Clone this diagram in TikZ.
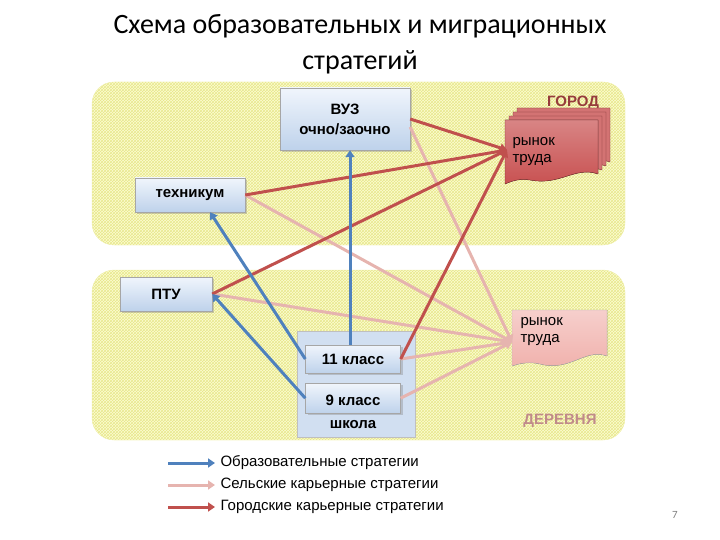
\documentclass[tikz,border=0pt]{standalone}
\usepackage{fontspec}
\setmainfont{Liberation Sans}
\newfontfamily\titlefont{Carlito}
\usetikzlibrary{patterns,arrows.meta,shadows}
\definecolor{regfill}{RGB}{252,252,210}
\definecolor{hatch}{RGB}{232,232,140}
\definecolor{boxtop}{RGB}{240,245,252}
\definecolor{boxbot}{RGB}{190,210,235}
\definecolor{edu}{RGB}{79,129,189}
\definecolor{rural}{RGB}{230,180,175}
\definecolor{urban}{RGB}{192,80,77}
\definecolor{docdark}{RGB}{200,80,80}
\definecolor{doclight}{RGB}{240,175,170}
\definecolor{cityc}{RGB}{150,60,60}
\begin{document}
\begin{tikzpicture}[x=1pt,y=-1pt,
  region/.style={rounded corners=22pt,draw=hatch!70!white,preaction={fill=regfill},pattern=crosshatch,pattern color=hatch},
  sbox/.style={draw=gray!70,top color=boxtop,bottom color=boxbot,font=\bfseries\fontsize{15}{18}\selectfont,align=center,inner sep=2pt,drop shadow={opacity=0.35,shadow xshift=2pt,shadow yshift=-2pt}},
  edua/.style={edu,line width=3pt,-{Triangle[length=7pt,width=9pt]}},
  rura/.style={rural,line width=3pt,-{Triangle[length=7pt,width=9pt]}},
  urba/.style={urban,line width=3pt,-{Triangle[length=7pt,width=9pt]}},
  lab/.style={font=\fontsize{15}{18}\selectfont,anchor=west}]
\useasboundingbox (0,0) rectangle (720,540);
\node[font=\titlefont\fontsize{28}{36}\selectfont,align=center] (title) at (360,44) {Схема образовательных и миграционных\\стратегий};
\fill[region] (92,82) rectangle (625,245);
\fill[region] (92,270) rectangle (625,440);
\node[font=\bfseries\fontsize{15}{18}\selectfont,text=cityc] (gorod) at (573,103) {ГОРОД};
\node[font=\bfseries\fontsize{15}{18}\selectfont,text=cityc!60] (derevnya) at (560,421) {ДЕРЕВНЯ};
% school box
\node[draw=gray!50,fill=boxbot!70,minimum width=118pt,minimum height=106pt] (shk) at (356,384) {};
\node[font=\bfseries\fontsize{15}{18}\selectfont] (shklab) at (353,425) {школа};
\node[sbox,minimum width=130pt,minimum height=62pt] (vuz) at (345,119) {ВУЗ\\[2pt]очно/заочно};
\node[sbox,minimum width=110pt,minimum height=34pt] (tech) at (190,195) {техникум};
\node[sbox,minimum width=92pt,minimum height=34pt] (ptu) at (166,294) {ПТУ};
\node[sbox,minimum width=95pt,minimum height=28pt] (k11) at (353,359) {11 класс};
\node[sbox,minimum width=95pt,minimum height=30pt,anchor=north] (k9) at (353,383) {};
\node[font=\bfseries\fontsize{15}{18}\selectfont] (k9lab) at (353,400) {9 класс};
% labour markets
\foreach \d in {12,8,4}{
  \fill[docdark!80,draw=docdark!60!black] (505+\d,120-\d) -- (598+\d,120-\d) -- (598+\d,174-\d) .. controls (575+\d,166-\d) and (560+\d,186-\d) .. (530+\d,180-\d) .. controls (518+\d,178-\d) and (510+\d,182-\d) .. (505+\d,184-\d) -- cycle;}
\fill[top color=docdark!70,bottom color=docdark,draw=docdark!60!black] (505,120) -- (598,120) -- (598,174) .. controls (575,166) and (560,186) .. (530,180) .. controls (518,178) and (510,182) .. (505,184) -- cycle;
\node[font=\fontsize{15}{17}\selectfont,align=left,anchor=north west] (rt1) at (509,134) {рынок\\труда};
\fill[top color=doclight!60,bottom color=doclight,draw=gray!60] (512,310) -- (607,310) -- (607,356) .. controls (585,348) and (570,372) .. (540,364) .. controls (528,361) and (518,364) .. (512,366) -- cycle;
\node[font=\fontsize{15}{17}\selectfont,align=left,anchor=north west] (rt2) at (517,314) {рынок\\труда};
\coordinate (mt) at (507,150);
\coordinate (mb) at (512,342);
% rural
\draw[rura] (vuz.east) ++(0,8) -- (mb);
\draw[rura] (tech.east) -- (mb);
\draw[rura] (ptu.east) -- (mb);
\draw[rura] (k11.east) -- (mb);
\draw[rura] (k9.east) -- (mb);
% urban
\draw[urba] (vuz.east) -- (mt);
\draw[urba] (tech.east) -- (mt);
\draw[urba] (ptu.east) -- (mt);
\draw[urba] (k11.east) -- (mt);
% edu
\draw[edua] ([xshift=-3pt]k11.north) -- ([xshift=5pt]vuz.south);
\draw[edua] (k11.west) -- ([xshift=20pt]tech.south);
\draw[edua] (k9.west) -- (ptu.east);
% legend
\coordinate (l1a) at (168,463); \coordinate (l1b) at (215,463);
\coordinate (l2a) at (168,485); \coordinate (l2b) at (215,485);
\coordinate (l3a) at (168,507); \coordinate (l3b) at (215,507);
\draw[edua] (l1a) -- (l1b);
\draw[rura] (l2a) -- (l2b);
\draw[urba] (l3a) -- (l3b);
\node[lab] (t1) at (217,463) {Образовательные стратегии};
\node[lab] (t2) at (217,485) {Сельские карьерные стратегии};
\node[lab] (t3) at (217,507) {Городские карьерные стратегии};
\node[font=\titlefont\fontsize{11}{13}\selectfont,text=gray] (pg) at (675,515) {7};
\end{tikzpicture}
\end{document}
